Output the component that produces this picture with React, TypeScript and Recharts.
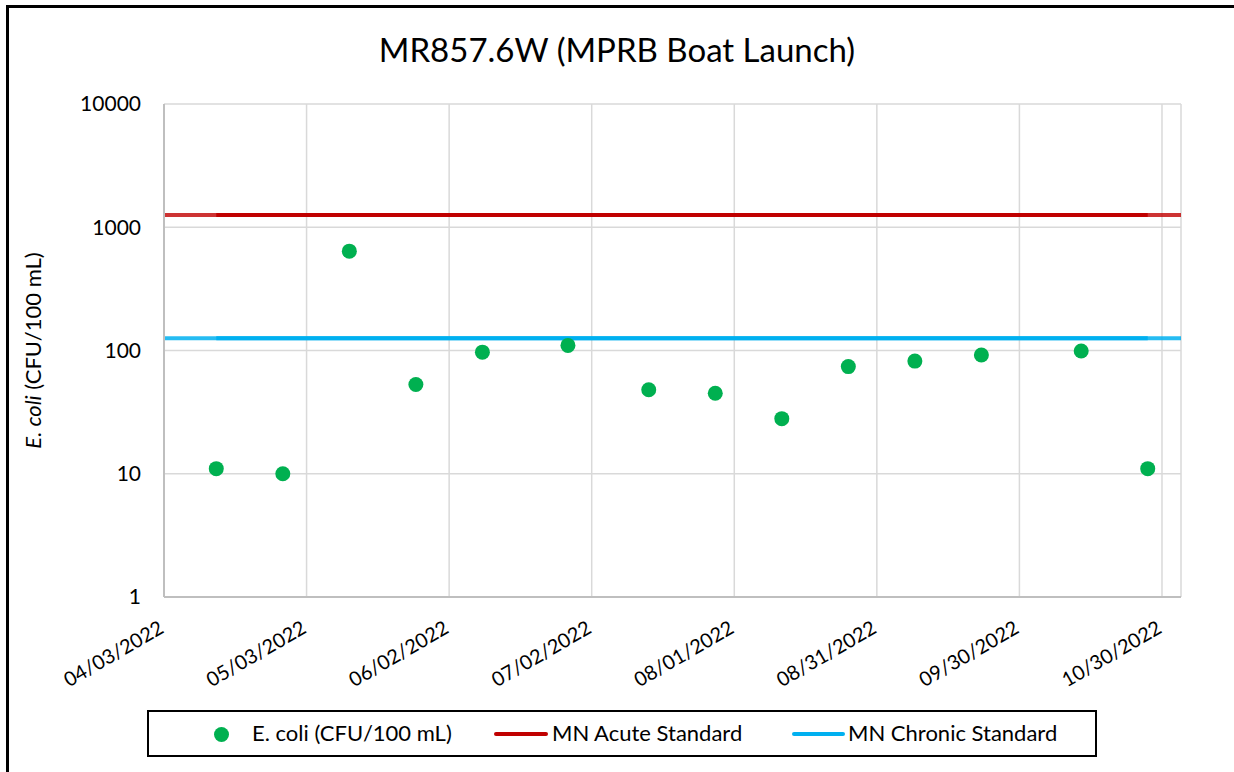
import React from 'react';
import { ScatterChart, Scatter, XAxis, YAxis, CartesianGrid, ReferenceLine } from 'recharts';

const START_DATE = '2022-04-03';
const sampleDates = [
  '2022-04-14', '2022-04-28', '2022-05-12', '2022-05-26', '2022-06-09', '2022-06-27', '2022-07-14',
  '2022-07-28', '2022-08-11', '2022-08-25', '2022-09-08', '2022-09-22', '2022-10-13', '2022-10-27',
];
const ecoliValues = [11, 10, 640, 53, 97, 110, 48, 45, 28, 74, 82, 92, 99, 11];
const xTickLabels = ['04/03/2022', '05/03/2022', '06/02/2022', '07/02/2022', '08/01/2022', '08/31/2022', '09/30/2022', '10/30/2022'];
const xTickDays = [0, 30, 60, 90, 120, 150, 180, 210];
const xDomainMax = 214;
const yTicks = [1, 10, 100, 1000, 10000];
const acuteStandard = 1260;
const chronicStandard = 126;

const FONT = 'Lato, "Noto Sans", sans-serif';

const dayOf = (d: string) => Math.round((Date.parse(d) - Date.parse(START_DATE)) / 86400000);

const ecoliData = sampleDates.map((d, i) => ({ x: dayOf(d), y: ecoliValues[i] }));
const firstDay = dayOf(sampleDates[0]);
const lastDay = dayOf(sampleDates[sampleDates.length - 1]);
const acuteData = [{ x: firstDay, y: acuteStandard }, { x: lastDay, y: acuteStandard }];
const chronicData = [{ x: firstDay, y: chronicStandard }, { x: lastDay, y: chronicStandard }];

const XTick = (props: any) => {
  const { x, y, payload } = props;
  const idx = xTickDays.indexOf(payload.value);
  const label = idx >= 0 ? xTickLabels[idx] : '';
  const tx = x + 1;
  const ty = y + 35;
  return (
    <text x={tx} y={ty} transform={`rotate(-30, ${tx}, ${ty})`} textAnchor="end" fontSize={20} fontFamily={FONT} fill="#000">
      {label}
    </text>
  );
};

const Dot = (props: any) => {
  const { cx, cy } = props;
  if (cx == null || cy == null) return null;
  return <circle cx={cx} cy={cy} r={7.5} fill="#00b050" />;
};

const NoShape = () => null;

const YLabel = (props: any) => {
  const vb = props.viewBox || {};
  const cx = 35;
  const cy = (vb.y ?? 104) + (vb.height ?? 493) / 2;
  return (
    <text x={cx} y={cy} transform={`rotate(-90, ${cx}, ${cy})`} textAnchor="middle" dominantBaseline="middle" fontSize={22} fontFamily={FONT} fill="#000">
      <tspan fontStyle="italic">E. coli</tspan>
      <tspan> (CFU/100 mL)</tspan>
    </text>
  );
};

export default function App() {
  return (
    <div style={{ position: 'absolute', left: 0, top: 0, width: 1234, height: 772, overflow: 'hidden', background: '#fff', fontFamily: FONT }}>
      <div style={{ position: 'absolute', left: 6, top: 5, width: 1240, height: 764, borderTop: '3px solid #000', borderLeft: '3px solid #000', borderBottom: '2px solid #a6a6a6' }} />
      <div style={{ position: 'absolute', left: 0, top: 27, width: 1234, textAlign: 'center', fontSize: 33, lineHeight: '44px', color: '#000' }}>
        MR857.6W (MPRB Boat Launch)
      </div>
      <div style={{ position: 'absolute', left: 0, top: 0 }}>
        <ScatterChart width={1234} height={772} margin={{ top: 104, right: 53, bottom: 0, left: 100 }}>
          <CartesianGrid stroke="#d9d9d9" strokeWidth={1.5} horizontal={true} vertical={true} />
          <XAxis
            type="number"
            dataKey="x"
            domain={[0, xDomainMax]}
            ticks={xTickDays}
            interval={0}
            allowDataOverflow
            tick={<XTick />}
            tickLine={false}
            tickSize={0}
            tickMargin={0}
            axisLine={{ stroke: '#bfbfbf', strokeWidth: 2 }}
            height={175}
          />
          <YAxis
            type="number"
            dataKey="y"
            scale="log"
            domain={[1, 10000]}
            ticks={yTicks}
            interval={0}
            allowDataOverflow
            width={64}
            tickLine={false}
            tickSize={0}
            tickMargin={23}
            tick={{ fontSize: 21, fontFamily: FONT, fill: '#000' }}
            axisLine={{ stroke: '#bfbfbf', strokeWidth: 2 }}
            label={<YLabel />}
          />
          <ReferenceLine y={acuteStandard} stroke="#c00000" strokeOpacity={0.8} strokeWidth={4} />
          <ReferenceLine y={chronicStandard} stroke="#00b0f0" strokeOpacity={0.85} strokeWidth={4} />
          <Scatter data={acuteData} line={{ stroke: '#c00000', strokeWidth: 4 }} shape={<NoShape />} isAnimationActive={false} />
          <Scatter data={chronicData} line={{ stroke: '#00b0f0', strokeWidth: 4 }} shape={<NoShape />} isAnimationActive={false} />
          <Scatter data={ecoliData} shape={<Dot />} isAnimationActive={false} />
        </ScatterChart>
      </div>
      <div style={{ position: 'absolute', left: 147, top: 710, width: 946, height: 43, border: '2px solid #000', fontSize: 22, color: '#000' }}>
        <div style={{ position: 'absolute', left: 65, top: 15, width: 15, height: 15, borderRadius: '50%', background: '#00b050' }} />
        <div style={{ position: 'absolute', left: 103, top: 8, lineHeight: '26px' }}>E. coli (CFU/100 mL)</div>
        <div style={{ position: 'absolute', left: 345, top: 20, width: 54, height: 4, borderRadius: 2, background: '#c00000' }} />
        <div style={{ position: 'absolute', left: 403, top: 8, lineHeight: '26px' }}>MN Acute Standard</div>
        <div style={{ position: 'absolute', left: 643, top: 20, width: 53, height: 4, borderRadius: 2, background: '#00b0f0' }} />
        <div style={{ position: 'absolute', left: 699, top: 8, lineHeight: '26px' }}>MN Chronic Standard</div>
      </div>
    </div>
  );
}
